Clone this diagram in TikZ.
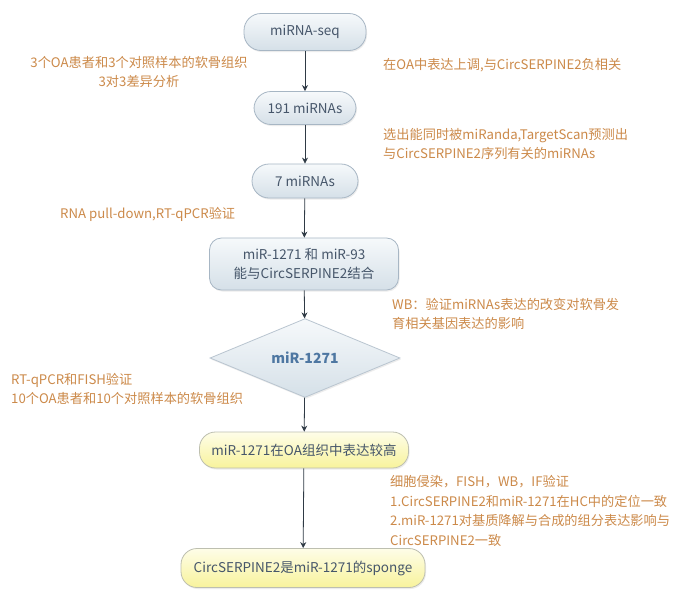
\documentclass[tikz,border=0pt]{standalone}
\usepackage{fontspec}
\setmainfont{Noto Sans CJK SC}
\usetikzlibrary{shapes.geometric,arrows.meta,shadows}
\definecolor{boxline}{HTML}{A7B6C4}
\definecolor{boxtop}{HTML}{F6F9FB}
\definecolor{boxbot}{HTML}{D5E0E8}
\definecolor{boxtext}{HTML}{46566A}
\definecolor{ytop}{HTML}{FEFDE8}
\definecolor{ybot}{HTML}{F8F39C}
\definecolor{yline}{HTML}{BDBFB0}
\definecolor{notec}{HTML}{CC8A4A}
\definecolor{arrc}{HTML}{2F3A45}
\definecolor{diatext}{HTML}{4E77A2}
\begin{document}
\begin{tikzpicture}[x=1pt,y=-1pt,
  base/.style={draw=boxline, line width=0.8pt, text=boxtext, align=center,
    font=\fontsize{13.5}{19.5}\selectfont,
    drop shadow={opacity=0.15, shadow xshift=1pt, shadow yshift=-1.5pt}},
  pill/.style={base, rectangle, rounded corners=17pt, top color=boxtop, bottom color=boxbot},
  rbox/.style={base, rectangle, rounded corners=12pt, top color=boxtop, bottom color=boxbot},
  ybox/.style={base, rectangle, rounded corners=16pt, draw=yline, top color=ytop, bottom color=ybot},
  dia/.style={base, diamond, draw=boxline!80, top color=boxtop, bottom color=boxbot, text=diatext,
    font=\fontsize{14}{16}\selectfont\bfseries, inner sep=0pt},
  note/.style={text=notec, font=\fontsize{13.2}{19.5}\selectfont, inner sep=0pt},
  arr/.style={draw=arrc, line width=0.8pt, -{Stealth[length=6pt,width=6pt]}}
]
\useasboundingbox[fill=white] (0,0) rectangle (680,603);

\node[pill, minimum width=122pt, minimum height=37pt] (seq) at (305,32) {miRNA-seq};
\node[pill, minimum width=102pt, minimum height=33pt] (m191) at (305,108) {191 miRNAs};
\node[pill, minimum width=106pt, minimum height=34pt] (m7) at (305,181) {7 miRNAs};
\node[rbox, minimum width=189pt, minimum height=52pt] (bind) at (304,264) {miR-1271 和 miR-93\\能与CircSERPINE2结合};
\node[dia, minimum width=190pt, minimum height=44pt] (d) at (305,358) {miR-1271};
\node[ybox, minimum width=209pt, minimum height=36pt] (high) at (304,450) {miR-1271在OA组织中表达较高};
\node[ybox, minimum width=244pt, minimum height=39pt] (sponge) at (303,568) {CircSERPINE2是miR-1271的sponge};

\draw[arr] (seq) -- (m191);
\draw[arr] (m191) -- (m7);
\draw[arr] (m7) -- (bind);
\draw[arr] (bind) -- (d);
\draw[arr] (d) -- (high);
\draw[arr] (high) -- (sponge);

\node[note, align=center] (n1) at (139,72) {3个OA患者和3个对照样本的软骨组织\\3对3差异分析};
\node[note, anchor=west] (n2) at (383,65) {在OA中表达上调,与CircSERPINE2负相关};
\node[note, anchor=west, align=left] (n3) at (383,144) {选出能同时被miRanda,TargetScan预测出\\与CircSERPINE2序列有关的miRNAs};
\node[note, anchor=west] (n4) at (60,214) {RNA pull-down,RT-qPCR验证};
\node[note, anchor=west, align=left] (n5) at (392,314) {WB：验证miRNAs表达的改变对软骨发\\育相关基因表达的影响};
\node[note, anchor=west, align=left] (n6) at (11,389) {RT-qPCR和FISH验证\\10个OA患者和10个对照样本的软骨组织};
\node[note, anchor=west, align=left] (n7) at (390,511) {细胞侵染，FISH，WB，IF验证\\1.CircSERPINE2和miR-1271在HC中的定位一致\\2.miR-1271对基质降解与合成的组分表达影响与\\CircSERPINE2一致};
\end{tikzpicture}
\end{document}
